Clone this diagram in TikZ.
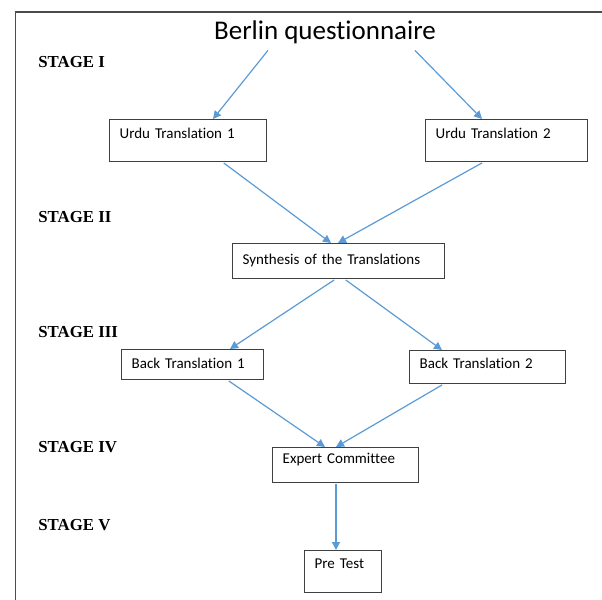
\documentclass[tikz,border=0pt]{standalone}
\usepackage{fontspec}
\setmainfont{Carlito}[RawFeature={-liga;-clig;-calt;-dlig}]
\newfontfamily\stagefont{Liberation Serif}
\usetikzlibrary{arrows.meta}
\definecolor{flowblue}{RGB}{91,155,213}
\tikzset{
  trbox/.style={draw=black!75, line width=0.7pt, anchor=north west,
    inner xsep=5pt, inner ysep=0pt, align=left,
    font=\fontsize{7.5}{9}\selectfont},
  stage/.style={anchor=base west, inner sep=0pt,
    font=\stagefont\bfseries\fontsize{8.4}{10}\selectfont},
  flow/.style={draw=flowblue, line width=0.6pt,
    -{Triangle[length=4pt,width=4pt]}}
}
\begin{document}
\begin{tikzpicture}[x=0.5pt, y=-0.5pt]
\useasboundingbox (0,0) rectangle (602,600);
\clip (0,0) rectangle (602,600);
\draw[black!70, line width=0.6pt] (15.5,12) rectangle (650,650);
% title and stages
\node[anchor=base, inner sep=0pt, text depth=5.5pt,
  font=\fontsize{13.5}{16}\selectfont] (title) at (325,39) {Berlin questionnaire};
\foreach \s/\y in {I/67,II/222,III/337,IV/452,V/530}
   \node[stage] (s\s) at (38,\y) {STAGE \s};
% boxes
\node[trbox, text width=68.5pt, text height=9.5pt, text depth=11.5pt] (ut1) at (109,119) {Urdu Translation 1};
\node[trbox, text width=71pt, text height=9.5pt, text depth=11.5pt] (ut2) at (425,119) {Urdu Translation 2};
\node[trbox, text width=96pt, text height=10.5pt, text depth=7pt] (syn) at (232,243) {Synthesis of the Translations};
\node[trbox, text width=61pt, text height=9.5pt, text depth=5.5pt] (bt1) at (121,349) {Back Translation 1};
\node[trbox, text width=68pt, text height=9pt, text depth=7.5pt] (bt2) at (409,350) {Back Translation 2};
\node[trbox, text width=63pt, text height=8pt, text depth=9.5pt] (exp) at (272,447) {Expert Committee};
\node[trbox, text width=28.5pt, text height=9pt, text depth=12pt] (pre) at (304,550) {Pre Test};
% arrows
\draw[flow] ([xshift=-28.5pt]title.south) -- ([xshift=52pt]ut1.north west);
\draw[flow] ([xshift=45pt]title.south) -- ([xshift=28.5pt]ut2.north west);
\foreach \a/\ax/\b/\bx in {ut1/57/syn/49.5, ut2/29/syn/53, syn/51.5/bt1/54.5,
   syn/56.5/bt2/16.5, bt1/53.5/exp/26.5, bt2/17/exp/32, exp/32/pre/16}
   \draw[flow, shorten <=0.5pt] ([xshift=\ax pt]\a.south west) -- ([xshift=\bx pt]\b.north west);
\end{tikzpicture}
\end{document}
